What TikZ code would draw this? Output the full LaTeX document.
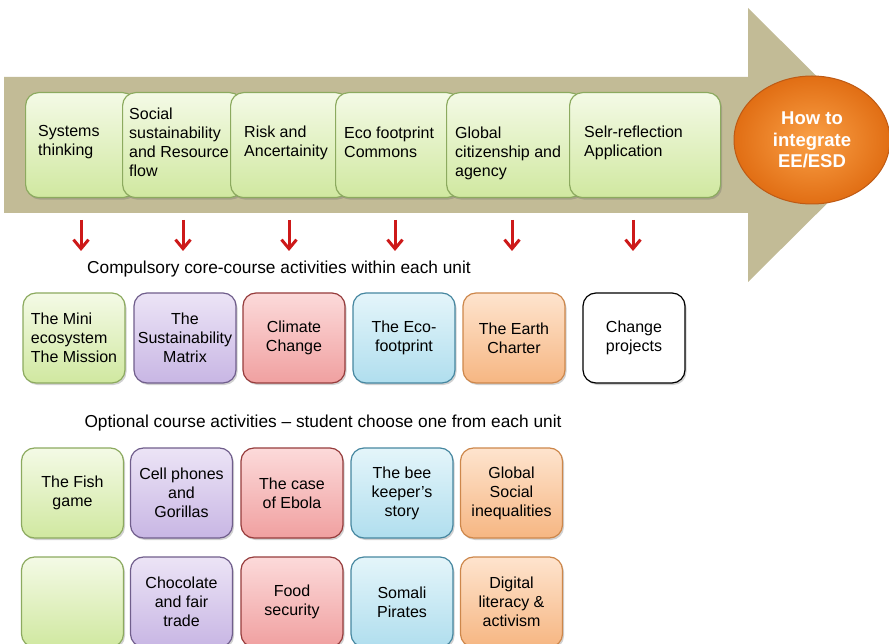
\documentclass[tikz,border=0pt]{standalone}
\usepackage{fontspec}
\setmainfont{Liberation Sans}
\usetikzlibrary{shadows,arrows.meta,shapes.geometric}

% palette
\definecolor{bandtan}{RGB}{194,187,150}
\definecolor{grTop}{RGB}{244,250,230}
\definecolor{grBot}{RGB}{208,232,160}
\definecolor{grEdge}{RGB}{140,170,95}
\definecolor{puTop}{RGB}{236,228,246}
\definecolor{puBot}{RGB}{200,182,228}
\definecolor{puEdge}{RGB}{112,94,140}
\definecolor{rdTop}{RGB}{252,218,218}
\definecolor{rdBot}{RGB}{240,160,160}
\definecolor{rdEdge}{RGB}{150,60,60}
\definecolor{blTop}{RGB}{228,245,250}
\definecolor{blBot}{RGB}{176,222,238}
\definecolor{blEdge}{RGB}{70,135,160}
\definecolor{orTop}{RGB}{254,228,206}
\definecolor{orBot}{RGB}{246,182,130}
\definecolor{orEdge}{RGB}{205,135,75}
\definecolor{ballIn}{RGB}{250,160,70}
\definecolor{ballOut}{RGB}{225,110,20}
\definecolor{ballEdge}{RGB}{190,90,20}
\definecolor{downred}{RGB}{205,25,25}

\begin{document}
\begin{tikzpicture}[x=1pt,y=-1pt,
  boxfont/.style={font=\fontsize{16}{19}\selectfont},
  softshadow/.style={drop shadow={opacity=0.3,shadow xshift=1.5pt,shadow yshift=-2pt,fill=black!60}},
  unitbox/.style={draw=grEdge,line width=1.2pt,rounded corners=13pt,
    top color=grTop,bottom color=grBot,softshadow,
    anchor=north west,minimum height=105pt,inner sep=0pt},
  unitlabel/.style={boxfont,align=left,anchor=west,inner sep=0pt},
  card/.style={rectangle,line width=1.2pt,rounded corners=13pt,softshadow,
    minimum width=102pt,minimum height=90pt,inner sep=2pt,boxfont,align=center},
  cgreen/.style={card,draw=grEdge,top color=grTop,bottom color=grBot},
  cpurple/.style={card,draw=puEdge,top color=puTop,bottom color=puBot},
  cred/.style={card,draw=rdEdge,top color=rdTop,bottom color=rdBot},
  cblue/.style={card,draw=blEdge,top color=blTop,bottom color=blBot},
  corange/.style={card,draw=orEdge,top color=orTop,bottom color=orBot},
  cplain/.style={card,draw=black,fill=white},
  caption/.style={font=\fontsize{17.3}{20}\selectfont,inner sep=0pt},
  downarrow/.style={draw=downred,line width=3pt,
    -{Straight Barb[length=9pt,width=15pt,line width=3pt]}}
]
\useasboundingbox (0,0) rectangle (889,644);

% big tan arrow
\fill[bandtan] (4,77) -- (748,77) -- (748,8) -- (886,145) -- (748,282)
  -- (748,213) -- (4,213) -- cycle;

% unit boxes along the arrow (later ones overlap earlier ones)
\node[unitbox,minimum width=110pt] (u1) at (25,92) {};
\node[unitbox,minimum width=120pt] (u2) at (122,92) {};
\node[unitbox,minimum width=118pt] (u3) at (230,92) {};
\node[unitbox,minimum width=124pt] (u4) at (335,92) {};
\node[unitbox,minimum width=136pt] (u5) at (446,92) {};
\node[unitbox,minimum width=151pt] (u6) at (569,92) {};

\node[unitlabel] (t1) at (38,142) {Systems\\thinking};
\node[unitlabel] (t2) at (129,142) {Social\\sustainability\\and Resource\\flow};
\node[unitlabel] (t3) at (244,143) {Risk and\\Ancertainity};
\node[unitlabel] (t4) at (344,142) {Eco footprint\\Commons};
\node[unitlabel] (t5) at (455,153) {Global\\citizenship and\\agency};
\node[unitlabel] (t6) at (584,143) {Selr-reflection\\Application};

% goal ellipse
\node[ellipse,minimum width=156pt,minimum height=128pt,inner sep=0pt,
  draw=ballEdge,line width=1pt,inner color=ballIn,outer color=ballOut,
  text=white,align=center,font=\bfseries\fontsize{18.5}{21.5}\selectfont]
  (goal) at (812,140) {How to\\integrate\\EE/ESD};

% red down arrows below the units
\foreach \i/\x in {1/81,2/183,3/289,4/395,5/512,6/633}{
  \coordinate (s\i) at (\x,220);
  \coordinate (e\i) at (\x,251);
  \draw[downarrow] (s\i) -- (e\i);
}

\node[caption] (core) at (279,269) {Compulsory core-course activities within each unit};

% compulsory activities
\node[cgreen,align=left]  (a1) at (74,338)  {The Mini\\ecosystem\\The Mission};
\node[cpurple] (a2) at (185,338) {The\\Sustainability\\Matrix};
\node[cred]    (a3) at (294,338) {Climate\\Change};
\node[cblue]   (a4) at (404,338) {The Eco-\\footprint};
\node[corange] (a5) at (514,338) {The Earth\\Charter};
\node[cplain]  (a6) at (634,338) {Change\\projects};

\node[caption] (opt) at (323,423) {Optional course activities -- student choose one from each unit};

% optional activities, first row
\node[cgreen]  (b1) at (72.5,493) {The Fish\\game};
\node[cpurple] (b2) at (181.5,493) {Cell phones\\and\\Gorillas};
\node[cred]    (b3) at (292,493) {The case\\of Ebola};
\node[cblue]   (b4) at (402,493) {The bee\\keeper's\\story};
\node[corange] (b5) at (511.5,493) {Global\\Social\\inequalities};

% optional activities, second row
\node[cgreen]  (d1) at (72.5,602) {};
\node[cpurple] (d2) at (181.5,602) {Chocolate\\and fair\\trade};
\node[cred]    (d3) at (292,602) {Food\\security};
\node[cblue]   (d4) at (402,602) {Somali\\Pirates};
\node[corange] (d5) at (511.5,602) {Digital\\literacy \&\\activism};
\end{tikzpicture}
\end{document}
